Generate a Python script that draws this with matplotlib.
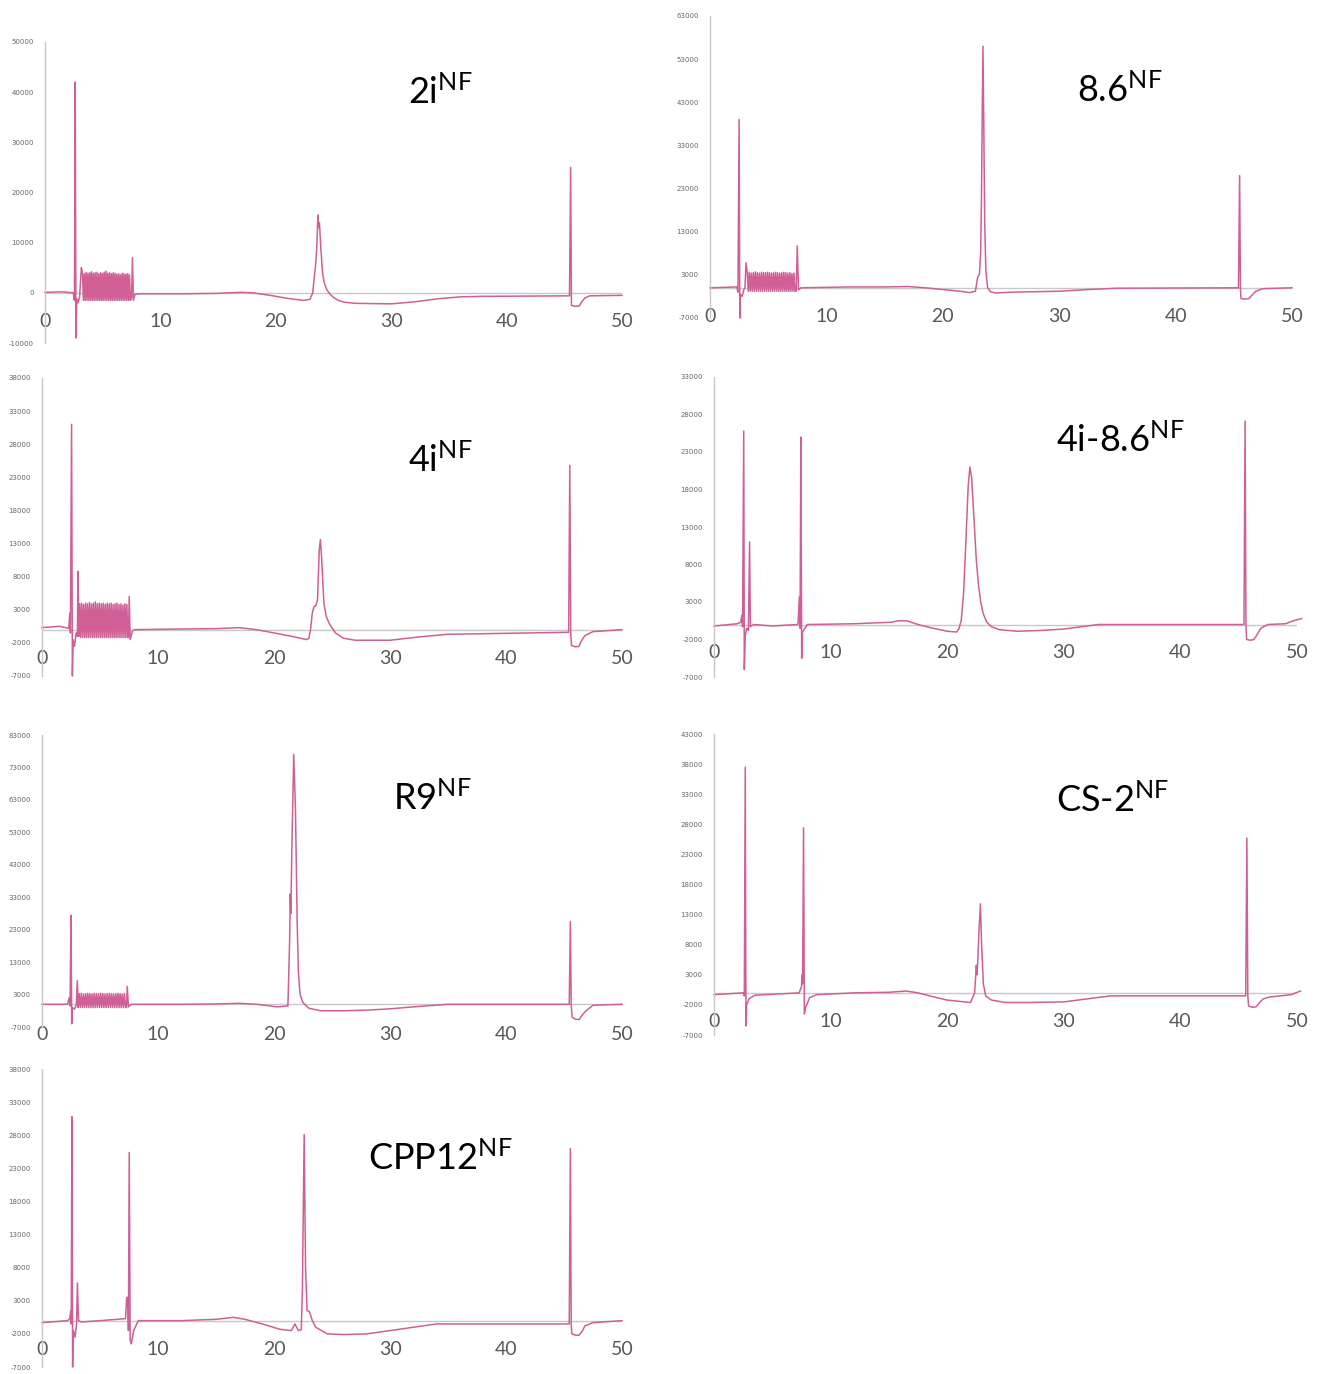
import numpy as np
import matplotlib
matplotlib.use("Agg")
import matplotlib.pyplot as plt

plt.rcParams["mathtext.fontset"] = "custom"
plt.rcParams["mathtext.rm"] = "Lato"
plt.rcParams["mathtext.it"] = "Lato:italic"
plt.rcParams["mathtext.bf"] = "Lato:bold"

LINE = "#cf5f95"
GRID = "#c8c8c8"

# --- chromatograms: retention time (min) vs detector signal ---
# 2i
T_2I = [0, 1.5, 2.45, 2.55, 2.62, 2.68, 2.75, 2.85, 3.0, 3.15,
        7.5, 7.58, 7.66, 7.8, 8.2, 12, 15, 17, 18, 19.5, 21, 22.4, 22.95, 23.2, 23.35, 23.45,
        23.55, 23.65, 23.72, 23.78, 23.9, 24.05, 24.2, 24.4, 24.7, 25.0, 25.4, 26, 27, 30, 32,
        34, 36, 38, 45.45, 45.55, 45.62, 46.0, 46.3, 46.5, 46.8, 47.2, 50]
Y_2I = [100, 200, 0, -1500, 42000, -9000, -1200, -2000, -800, 5000,
        -1000, 7000, -1500, -300, -200, -200, -100, 100, 0, -500, -1100, -1500, -1300, 0, 3500, 5500,
        9000, 15500, 13000, 14000, 9000, 4000, 2000, 700, -300, -900, -1500, -1900, -2100, -2200, -1800,
        -1200, -800, -700, -600, 25000, -2500, -2700, -2600, -1800, -1000, -600, -500]
COMB_2I = [4000, 3800, 4100, 3900, 4000, 4200, 3900, 4000, 4100, 3800, 4000, 3900, 4100,
           4300, 3900, 4000, 3800, 4000, 3900, 3700, 3800, 3600, 3900, 3800, 3700, 3800, 3600]
COMB_2I_AT = (3.25, 7.4, -1500)

# 8.6
T_86 = [0, 2.3, 2.4, 2.5, 2.56, 2.62, 2.75, 2.9, 3.0, 3.1,
        7.4, 7.5, 7.6, 7.8, 12, 15, 17, 18.5, 20, 21.5, 22.3, 22.8, 23.0, 23.15, 23.25, 23.32,
        23.38, 23.45, 23.52, 23.6, 23.7, 23.85, 24.1, 24.5, 26, 30, 32.5, 35,
        45.4, 45.5, 45.57, 45.62, 46.0, 46.3, 46.6, 46.9, 47.5, 50]
Y_86 = [0, 200, -1000, 39000, -7000, -1500, -2000, -500, 0, 5800,
        -800, 9700, -500, 0, 200, 200, 300, 0, -400, -800, -1100, -800, 2500, 3200, 8000, 20000,
        38000, 56000, 38000, 15000, 4000, 0, -900, -1200, -1000, -800, -400, -100,
        0, 26000, -500, -2500, -2600, -2500, -1600, -800, -200, 0]
COMB_86 = [3500, 3600, 3400, 3500, 3700, 3500, 3400, 3600, 3500, 3500, 3600, 3500,
           3400, 3500, 3600, 3500, 3400, 3500, 3600, 3500, 3400, 3500, 3300, 3400]
COMB_86_AT = (3.2, 7.3, -800)

# 4i
T_4I = [0, 1.5, 2.3, 2.4, 2.45, 2.55, 2.62, 2.68, 2.8, 2.95, 3.05, 3.1, 3.18,
        7.45, 7.52, 7.6, 7.8, 8.0, 12, 15, 17, 18.5, 20, 21.5, 22.8, 23.0, 23.15, 23.3, 23.45, 23.6,
        23.75, 23.9, 24.0, 24.1, 24.3, 24.5, 24.8, 25.3, 26, 27, 30, 32.5, 35,
        45.4, 45.5, 45.58, 45.65, 46.0, 46.3, 46.5, 46.8, 47.5, 50]
Y_4I = [300, 500, 200, 2500, -500, 31000, -7000, -1500, -2500, -500, -1000, 8800, -1000,
        -1200, 5000, -1500, -200, 0, 100, 150, 300, 0, -500, -1000, -1500, -1300, 0, 2500, 3500, 3600,
        4500, 12000, 13600, 11000, 4000, 2000, 800, -500, -1300, -1600, -1600, -1100, -700,
        -400, 24800, -600, -2400, -2600, -2500, -1700, -900, -300, 0]
COMB_4I = [3900, 4000, 3800, 4000, 3900, 4100, 3900, 4000, 4200, 3900, 4000, 3900, 4000,
           3800, 4000, 3900, 4000, 3800, 3900, 4000, 3800, 3900, 3700, 3900, 3800]
COMB_4I_AT = (3.25, 7.4, -1200)

# 4i-8.6
T_4I86 = [0, 2.0, 2.3, 2.38, 2.45, 2.55, 2.6, 2.68, 2.8, 2.95, 3.05, 3.12, 3.4, 5, 7.2,
          7.32, 7.38, 7.45, 7.52, 7.6, 7.8, 8.0, 12, 15.2, 15.8, 16.5, 17.5, 18.5, 20, 20.8,
          21.0, 21.2, 21.4, 21.6, 21.8, 21.95, 22.1, 22.3, 22.5, 22.7, 22.9, 23.1, 23.4, 23.8,
          24.5, 26, 28, 30, 31.5, 33,
          45.45, 45.55, 45.62, 45.68, 46.0, 46.3, 46.6, 46.9, 47.5, 49, 49.7, 50.4]
Y_4I86 = [-200, 100, 300, 1200, -300, 25800, -6000, -1500, -500, -800, 11000, -300, 0, -200, 0,
          3700, -500, 25000, -4500, -1000, -500, 0, 100, 300, 500, 500, 0, -400, -900, -1000,
          -600, 500, 4000, 11000, 18500, 21000, 19500, 14000, 8500, 5000, 2800, 1400, 300, -300,
          -700, -900, -800, -600, -300, 0,
          0, 27100, 0, -2000, -2100, -2000, -1300, -500, 0, 100, 500, 800]

# R9
T_R9 = [0, 2.2, 2.35, 2.42, 2.5, 2.56, 2.62, 2.8, 2.95, 3.05, 3.12,
        7.28, 7.35, 7.45, 7.7, 12, 15, 17, 18.5, 20.3, 21.2, 21.35, 21.4, 21.45, 21.55, 21.7,
        21.85, 22.0, 22.1, 22.25, 22.5, 23.0, 24, 26, 28, 30, 32, 35,
        45.45, 45.55, 45.62, 45.7, 46.0, 46.3, 46.6, 46.9, 47.5, 50]
Y_R9 = [0, 0, 2000, -500, 27400, -6000, -1000, -1500, -300, 7300, -1000,
        -1000, 5500, -800, 0, 0, 100, 300, 0, -800, -500, 20000, 34000, 28000, 50000, 77000,
        60000, 25000, 10000, 3000, 500, -1200, -2000, -2000, -1800, -1400, -800, 0,
        0, 25500, 0, -4000, -4600, -4700, -3200, -2000, -300, 0]
COMB_R9 = [3300, 3400, 3200, 3300, 3400, 3300, 3200, 3400, 3300, 3300, 3400, 3300,
           3200, 3300, 3400, 3300, 3200, 3300, 3400, 3300, 3200, 3300]
COMB_R9_AT = (3.2, 7.2, -1000)

# CS-2
T_CS2 = [0, 2.5, 2.6, 2.68, 2.74, 2.8, 3.0, 3.5, 7.3, 7.5, 7.55, 7.6, 7.68, 7.75,
         7.85, 8.2, 8.8, 12, 15, 16.5, 17.5, 18.5, 20, 21, 22.0, 22.35, 22.5, 22.55, 22.62, 22.72,
         22.85, 22.95, 23.1, 23.3, 23.8, 25, 27, 30, 32, 34,
         45.6, 45.7, 45.78, 45.85, 46.2, 46.5, 46.8, 47.1, 47.6, 49.5, 50.3]
Y_CS2 = [-300, 0, -500, 37500, -5500, -2000, -1000, -400, 0, 1000, 3000, 1500, 27400, -3500,
         -2500, -800, -300, 0, 100, 300, 0, -500, -1200, -1400, -1600, 0, 4600, 3000, 5000, 10000,
         14800, 8000, 1500, -500, -1200, -1600, -1600, -1500, -1000, -500,
         -500, 25700, -500, -2200, -2400, -2300, -1600, -1000, -700, -300, 300]

# CPP12
T_CPP = [0, 2.2, 2.4, 2.48, 2.52, 2.58, 2.64, 2.7, 2.85, 2.98, 3.05, 3.15, 3.4, 5, 7.2,
         7.3, 7.4, 7.45, 7.52, 7.6, 7.7, 7.9, 8.3, 12, 15, 16.5, 17.5, 19, 20.5, 21.5, 21.8,
         22.1, 22.35, 22.45, 22.6, 22.72, 22.85, 23.05, 23.3, 23.6, 24.6, 26, 28, 30, 32, 34,
         45.45, 45.55, 45.62, 45.68, 46.0, 46.3, 46.6, 46.8, 47.5, 50]
Y_CPP = [-300, 0, 300, 1500, -500, 30800, -7000, -1500, -2500, -500, 5700, 0, -200, 0, 300,
         3500, 3500, -1500, 25400, -3000, -3500, -1500, 0, 0, 200, 500, 200, -500, -1300, -1500, -500,
         -1500, -1400, 5000, 28100, 8000, 1500, 1400, 0, -1000, -2000, -2100, -2000, -1500, -1000, -500,
         -500, 26000, -500, -2000, -2200, -2200, -1500, -800, -300, 0]

Y_TICKS_2I = list(range(-10000, 50001, 10000))
Y_TICKS_86 = list(range(-7000, 63001, 10000))
Y_TICKS_4I = list(range(-7000, 38001, 5000))
Y_TICKS_4I86 = list(range(-7000, 33001, 5000))
Y_TICKS_R9 = list(range(-7000, 83001, 10000))
Y_TICKS_CS2 = list(range(-7000, 43001, 5000))
Y_TICKS_CPP = list(range(-7000, 38001, 5000))
X_TICKS = [0, 10, 20, 30, 40, 50]


def with_comb(t, y, tops, at):
    # splice the pump-pulse ripple into the trace as alternating top/low points
    if tops is None:
        return np.array(t), np.array(y)
    start, end, low = at
    ct = np.linspace(start, end, 2 * len(tops))
    cy = []
    for h in tops:
        cy += [h, low]
    tt = np.concatenate([t, ct])
    yy = np.concatenate([y, cy])
    order = np.argsort(tt, kind="stable")
    return tt[order], yy[order]


W, H = 1323, 1374
fig = plt.figure(figsize=(W / 100, H / 100), dpi=100)

panels = [
    # label, t, y, comb, comb span, yticks, (left, right, top, bottom) px, label pad px, title xy px
    (r"2i$^{\mathrm{NF}}$", T_2I, Y_2I, COMB_2I, COMB_2I_AT, Y_TICKS_2I, (45, 622, 42, 343), -30, (440, 92)),
    (r"8.6$^{\mathrm{NF}}$", T_86, Y_86, COMB_86, COMB_86_AT, Y_TICKS_86, (710, 1292, 16, 318), -10, (1120, 90)),
    (r"4i$^{\mathrm{NF}}$", T_4I, Y_4I, COMB_4I, COMB_4I_AT, Y_TICKS_4I, (42, 622, 378, 676), -26, (440, 460)),
    (r"4i-8.6$^{\mathrm{NF}}$", T_4I86, Y_4I86, None, None, Y_TICKS_4I86, (714, 1297, 377, 677), -33, (1120, 440)),
    (r"R9$^{\mathrm{NF}}$", T_R9, Y_R9, COMB_R9, COMB_R9_AT, Y_TICKS_R9, (42, 622, 735, 1027), -1, (432, 798)),
    (r"CS-2$^{\mathrm{NF}}$", T_CS2, Y_CS2, None, None, Y_TICKS_CS2, (714, 1297, 734, 1035), -22, (1113, 800)),
    (r"CPP12$^{\mathrm{NF}}$", T_CPP, Y_CPP, None, None, Y_TICKS_CPP, (42, 622, 1069, 1367), -26, (440, 1158)),
]

for label, t, y, comb, at, yticks, (l, r, top, bot), pad, (tx, ty) in panels:
    ax = fig.add_axes([l / W, 1 - bot / H, (r - l) / W, (bot - top) / H])
    tt, yy = with_comb(t, y, comb, at)
    ax.plot([0, 50], [0, 0], color=GRID, lw=1.0, zorder=1)
    ax.plot(tt, yy, color=LINE, lw=1.1, zorder=2, clip_on=False)
    ax.set_xlim(0, 50)
    ax.set_ylim(yticks[0], yticks[-1])
    ax.set_yticks(yticks)
    ax.set_yticklabels([str(v) for v in yticks])
    ax.set_xticks(X_TICKS)
    ax.set_xticklabels([str(v) for v in X_TICKS], family="Lato")
    for s in ["top", "right", "bottom"]:
        ax.spines[s].set_visible(False)
    ax.spines["left"].set_color(GRID)
    ax.spines["left"].set_linewidth(1.0)
    ax.tick_params(axis="y", length=0, labelsize=5, labelcolor="#666666", pad=8)
    ax.tick_params(axis="x", length=0, labelsize=14, labelcolor="#595959", pad=pad * 0.72)
    ax.patch.set_alpha(0)
    fig.text(tx / W, 1 - ty / H, label, fontsize=26, family="Lato",
             ha="center", va="center", color="black")

fig.savefig("out.png", dpi=100)
